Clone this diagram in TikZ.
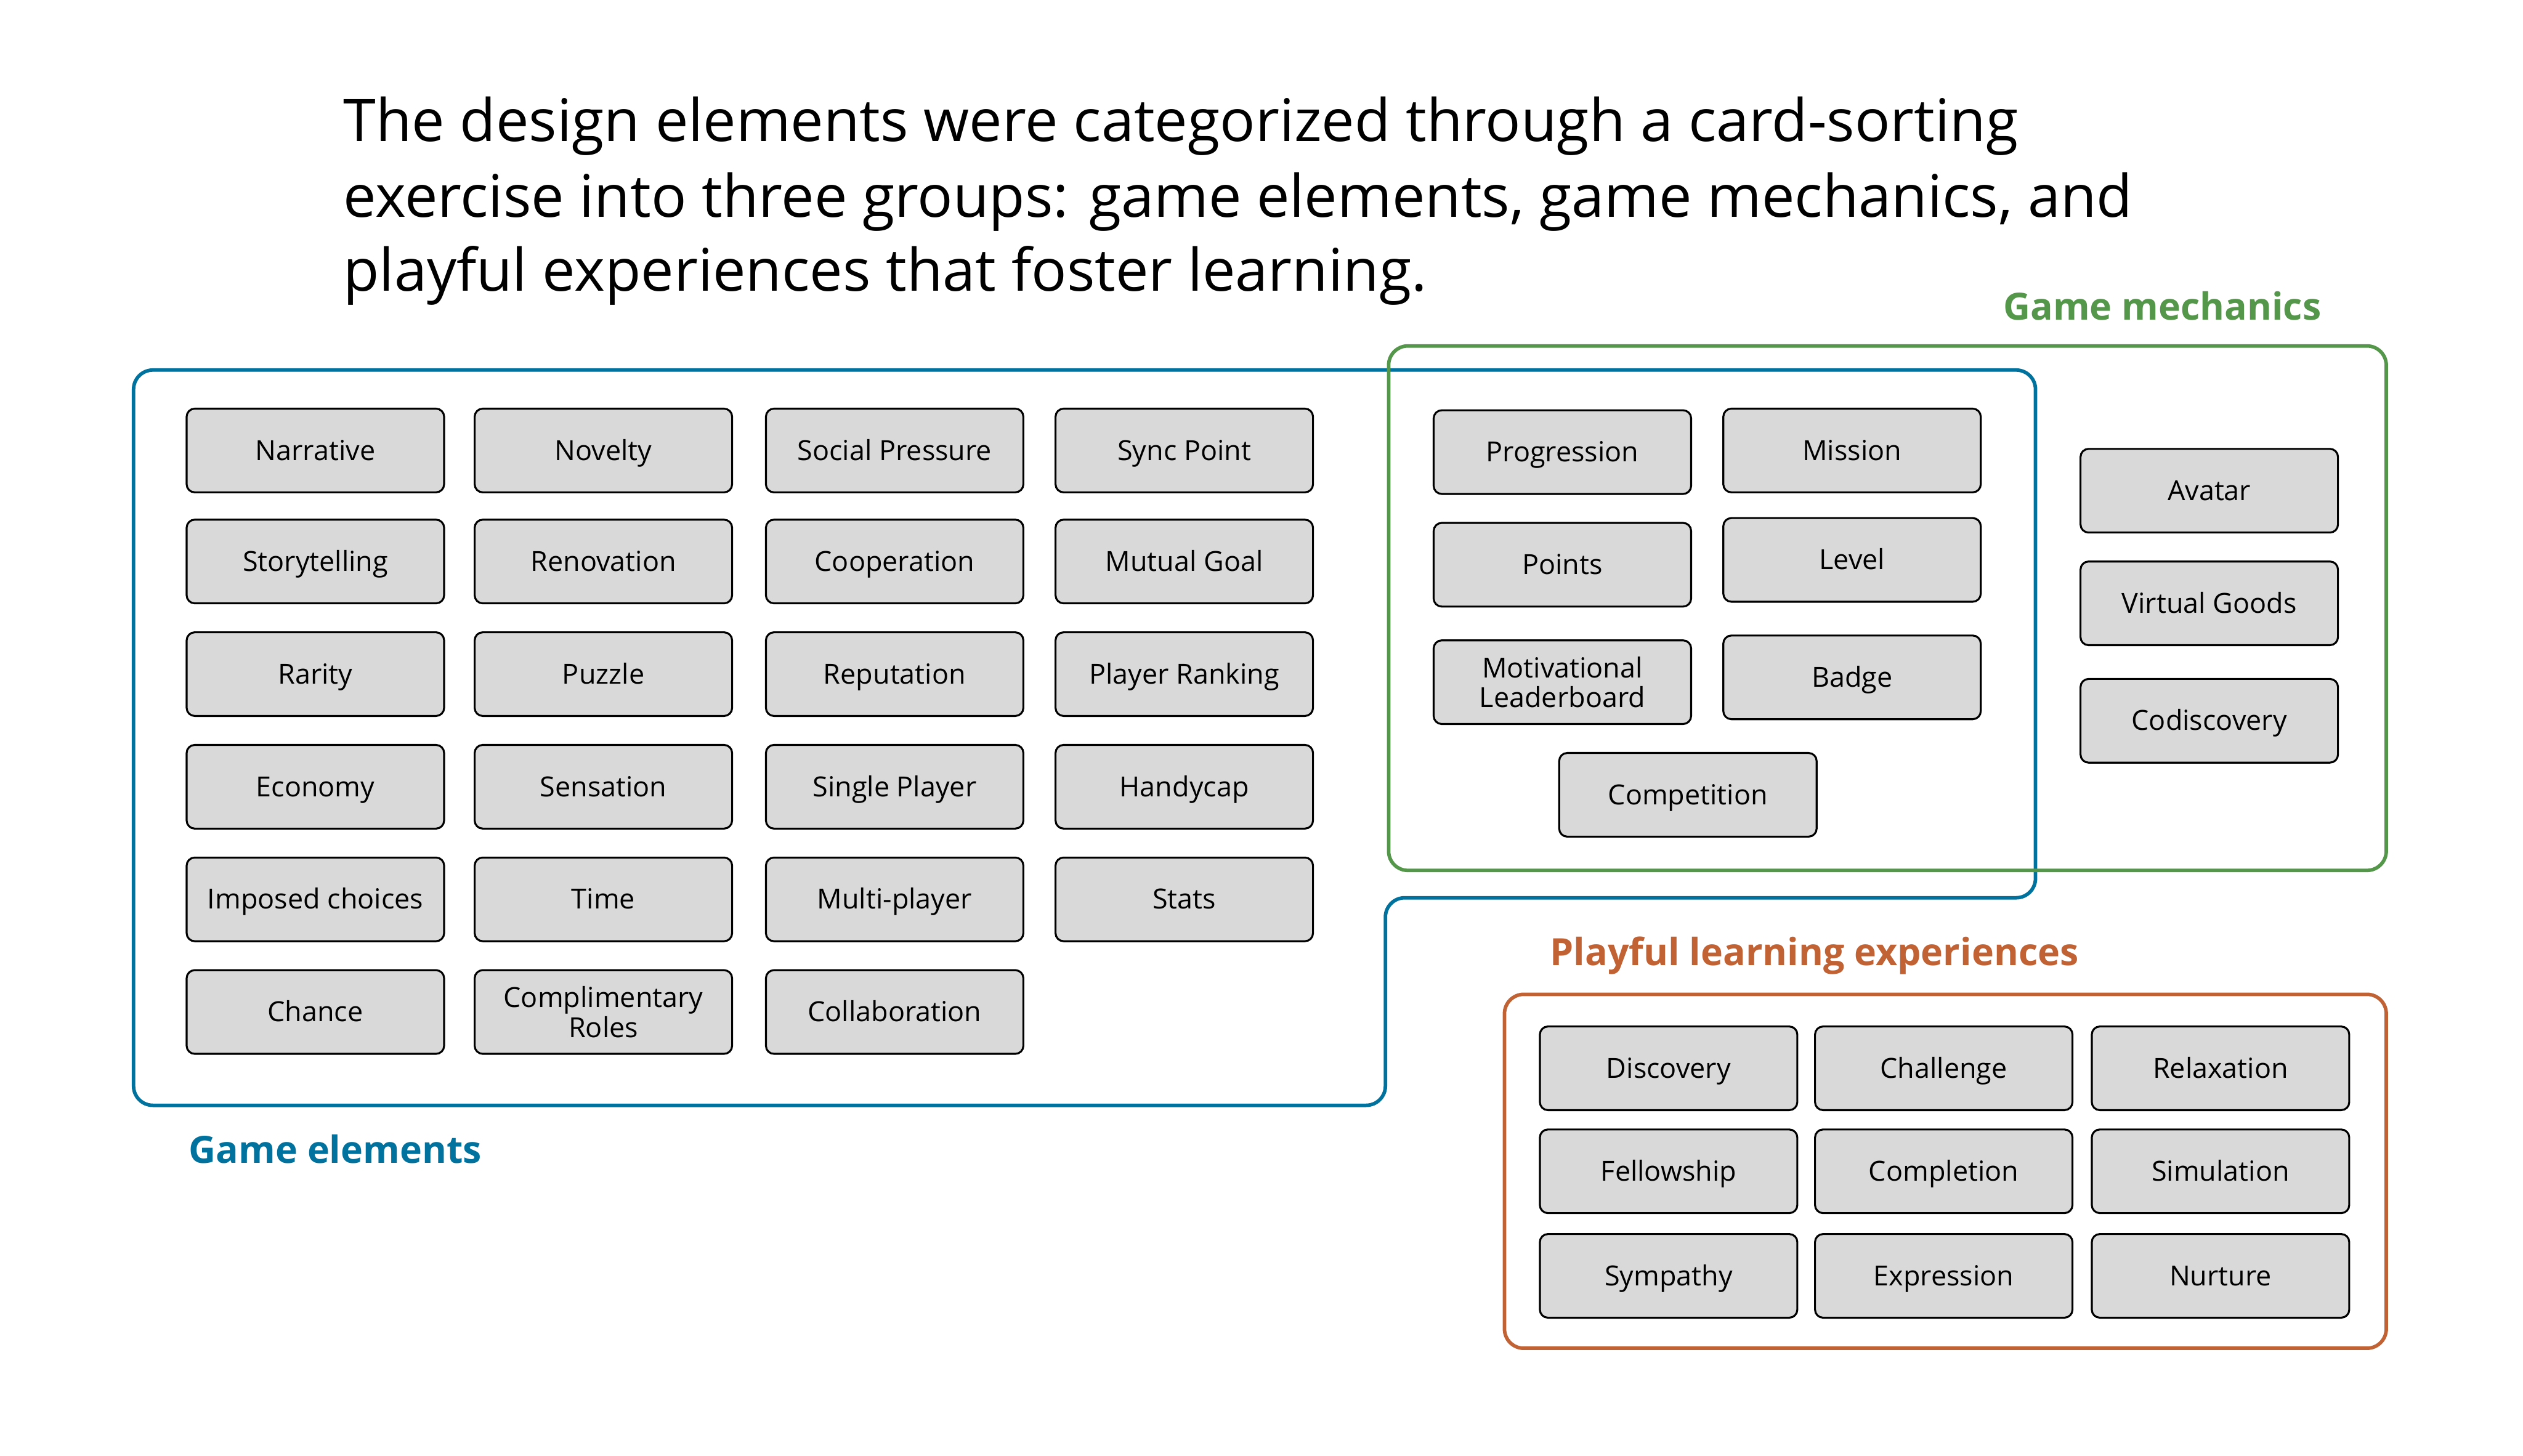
\documentclass[tikz,border=0pt]{standalone}
\usepackage{fontspec}
\setmainfont{Open Sans}
\definecolor{gblue}{HTML}{00729D}
\definecolor{ggreen}{HTML}{54964A}
\definecolor{gorange}{HTML}{C16234}
\definecolor{cardgray}{HTML}{D9D9D9}
\tikzset{
  cardbase/.style={draw=black, line width=0.6pt, fill=cardgray, rounded corners=2.5pt,
    minimum width=80pt, minimum height=26pt, inner sep=1pt, align=center,
    font=\fontsize{8.6}{10.2}\selectfont},
  card/.style={cardbase, text height=7.6pt, text depth=1.6pt},
  cardtwo/.style={cardbase},
  grp/.style={line width=1.1pt, rounded corners=6pt},
  grplabel/.style={inner sep=0pt, font=\fontsize{11.65}{14}\selectfont\bfseries},
  titleline/.style={inner sep=0pt, anchor=base west, font=\fontsize{18.25}{21}\selectfont}
}
\begin{document}
\begin{tikzpicture}[x=0.5pt,y=-0.5pt]
\useasboundingbox[fill=white] (0,0) rectangle (1568,904.6);

% title
\node[titleline] (t1) at (213,88) {The design elements were categorized through a card-sorting};
\node[titleline] (t2) at (213,135) {exercise into three groups: game elements, game mechanics, and};
\node[titleline] (t3) at (213,181) {playful experiences that foster learning.};

% group outlines
\draw[grp, gblue] (83,230) -- (1265,230) -- (1265,558) -- (861,558) -- (861,687) -- (83,687) -- cycle;
\draw[grp, ggreen] (863,215) rectangle (1483,541);
\draw[grp, gorange] (935,618) rectangle (1483,838);

% group labels
\node[grplabel, text=gblue, anchor=base west] (lge) at (117,723) {Game elements};
\node[grplabel, text=ggreen, anchor=base east] (lgm) at (1443,199) {Game mechanics};
\node[grplabel, text=gorange, anchor=base west] (lpl) at (963,600) {Playful learning experiences};

% game elements
\node[card] (narrative) at (196,280) {Narrative};
\node[card] (novelty) at (375,280) {Novelty};
\node[card] (social) at (556,280) {Social Pressure};
\node[card] (sync) at (736,280) {Sync Point};
\node[card] (story) at (196,349) {Storytelling};
\node[card] (renov) at (375,349) {Renovation};
\node[card] (coop) at (556,349) {Cooperation};
\node[card] (mutual) at (736,349) {Mutual Goal};
\node[card] (rarity) at (196,419) {Rarity};
\node[card] (puzzle) at (375,419) {Puzzle};
\node[card] (reput) at (556,419) {Reputation};
\node[card] (ranking) at (736,419) {Player Ranking};
\node[card] (economy) at (196,489) {Economy};
\node[card] (sensation) at (375,489) {Sensation};
\node[card] (single) at (556,489) {Single Player};
\node[card] (handy) at (736,489) {Handycap};
\node[card] (imposed) at (196,559) {Imposed choices};
\node[card] (time) at (375,559) {Time};
\node[card] (multi) at (556,559) {Multi-player};
\node[card] (stats) at (736,559) {Stats};
\node[card] (chance) at (196,629) {Chance};
\node[cardtwo] (roles) at (375,629) {Complimentary\\[-1pt]Roles};
\node[card] (collab) at (556,629) {Collaboration};

% game mechanics
\node[card] (progr) at (971,281) {Progression};
\node[card] (mission) at (1151,280) {Mission};
\node[card] (points) at (971,351) {Points};
\node[card] (level) at (1151,348) {Level};
\node[cardtwo] (leader) at (971,424) {Motivational\\[-1pt]Leaderboard};
\node[card] (badge) at (1151,421) {Badge};
\node[card] (compet) at (1049,494) {Competition};
\node[card] (avatar) at (1373,305) {Avatar};
\node[card] (goods) at (1373,375) {Virtual Goods};
\node[card] (codisc) at (1373,448) {Codiscovery};

% playful learning experiences
\node[card] (discov) at (1037,664) {Discovery};
\node[card] (chall) at (1208,664) {Challenge};
\node[card] (relax) at (1380,664) {Relaxation};
\node[card] (fellow) at (1037,728) {Fellowship};
\node[card] (compl) at (1208,728) {Completion};
\node[card] (simul) at (1380,728) {Simulation};
\node[card] (symp) at (1037,793) {Sympathy};
\node[card] (expr) at (1208,793) {Expression};
\node[card] (nurt) at (1380,793) {Nurture};
\end{tikzpicture}
\end{document}
